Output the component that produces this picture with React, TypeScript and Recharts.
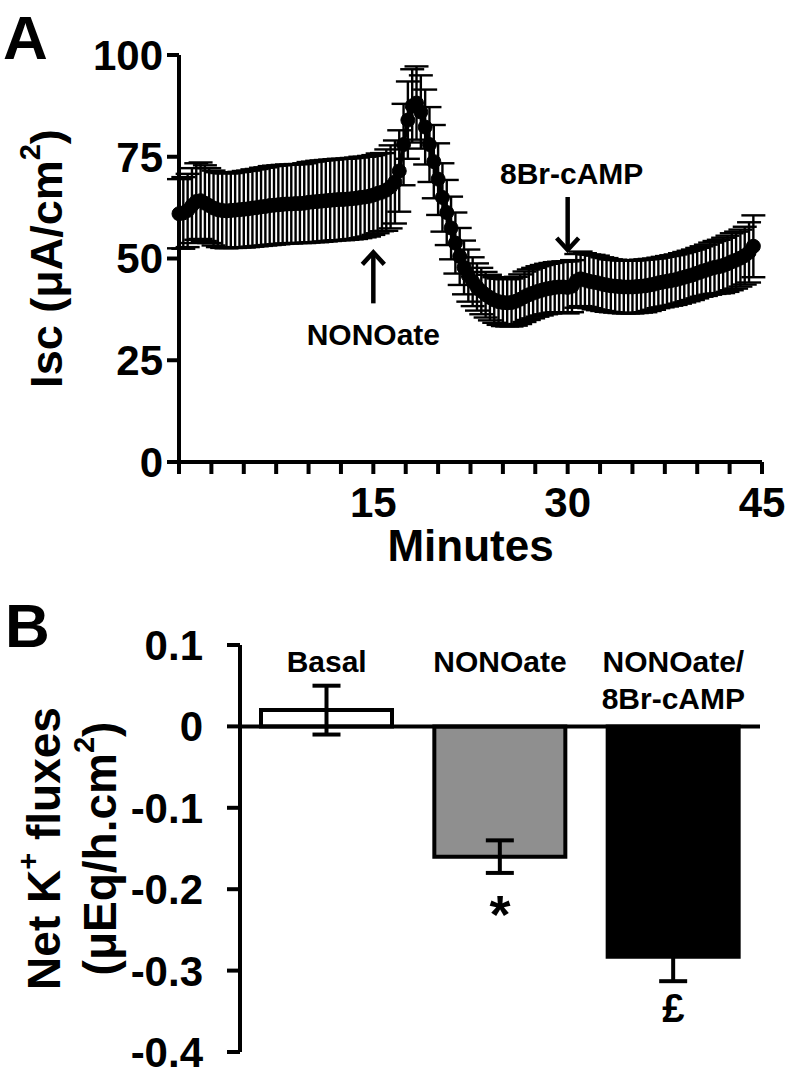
import React from 'react';
import {
  LineChart,
  Line,
  ErrorBar,
  XAxis,
  YAxis,
  ReferenceDot,
  BarChart,
  Bar,
  Cell,
  ReferenceLine,
} from 'recharts';

const FONT = '"Liberation Sans", Arial, Helvetica, sans-serif';

// ---- Panel A: Isc over time (one reading every 20 s) ----
const SAMPLE_MIN = 1 / 3;

const iscMean = [
  61.0, 61.2, 61.8, 63.0, 64.0, 64.2, 63.6, 63.0, 62.4, 62.0,
  61.8, 61.7, 61.8, 61.9, 62.0, 62.1, 62.2, 62.4, 62.5, 62.7,
  62.8, 63.0, 63.1, 63.2, 63.3, 63.4, 63.4, 63.5, 63.5, 63.6,
  63.8, 63.9, 64.0, 64.1, 64.2, 64.3, 64.4, 64.5, 64.5, 64.6,
  64.7, 64.8, 65.0, 65.1, 65.3, 65.6, 66.0, 66.3, 66.8, 67.6,
  68.8, 71.5, 78.0, 84.0, 87.5, 88.2, 86.0, 82.3, 78.0, 73.8,
  69.5, 65.0, 61.3, 57.5, 53.8, 50.5, 47.8, 45.8, 44.3, 43.0,
  42.0, 41.1, 40.4, 39.8, 39.4, 39.2, 39.1, 39.2, 39.5, 40.0,
  40.6, 41.1, 41.5, 41.9, 42.2, 42.5, 42.7, 42.9, 43.0, 43.0,
  42.9, 43.2, 44.5, 45.0, 44.7, 44.4, 44.2, 44.0, 43.7, 43.5,
  43.3, 43.2, 43.1, 43.0, 43.0, 43.0, 43.1, 43.2, 43.3, 43.5,
  43.7, 44.0, 44.2, 44.4, 44.6, 44.8, 45.1, 45.4, 45.7, 46.0,
  46.4, 46.8, 47.1, 47.5, 47.8, 48.0, 48.3, 48.7, 49.2, 49.6,
  50.1, 50.7, 51.5, 53.0,
];

const iscSem = [
  8.5, 8.8, 9.0, 9.2, 9.4, 9.4, 9.3, 9.2, 9.2, 9.2,
  9.2, 9.2, 9.2, 9.3, 9.3, 9.4, 9.4, 9.5, 9.5, 9.6,
  9.6, 9.7, 9.7, 9.7, 9.7, 9.7, 9.7, 9.7, 9.7, 9.8,
  9.9, 9.9, 10.0, 10.0, 10.0, 10.0, 10.0, 10.0, 10.0, 10.0,
  10.0, 10.0, 10.0, 9.9, 9.9, 9.8, 9.8, 9.6, 10.0, 10.2,
  10.2, 10.0, 10.0, 9.5, 9.0, 9.0, 9.0, 9.2, 9.2, 9.0,
  8.8, 8.4, 8.0, 7.7, 7.5, 7.0, 6.6, 6.4, 6.0, 5.8,
  5.7, 5.6, 5.6, 5.6, 5.7, 5.8, 5.8, 5.9, 6.0, 6.1,
  6.2, 6.2, 6.2, 6.2, 6.2, 6.2, 6.2, 6.2, 6.2, 6.3,
  6.4, 6.4, 6.6, 6.7, 6.6, 6.6, 6.7, 6.7, 6.6, 6.6,
  6.5, 6.5, 6.5, 6.5, 6.5, 6.5, 6.5, 6.5, 6.5, 6.4,
  6.3, 6.2, 6.2, 6.2, 6.2, 6.2, 6.2, 6.2, 6.2, 6.2,
  6.2, 6.2, 6.3, 6.4, 6.5, 6.6, 6.8, 6.9, 7.0, 7.0,
  7.0, 7.1, 7.4, 7.6,
];

const minuteTicks = [0, 2.5, 5, 7.5, 10, 12.5, 15, 17.5, 20, 22.5, 25, 27.5, 30, 32.5, 35, 37.5, 40, 42.5, 45];
const minuteLabels = [15, 30, 45];
const iscTicks = [0, 25, 50, 75, 100];

// treatment additions (minutes)
const nonoateAt = { t: 15, y: 52 };
const cAmpAt = { t: 30, y: 51.6 };

// ---- Panel B: net K+ fluxes ----
const fluxGroups = ['Basal', 'NONOate', 'NONOate/8Br-cAMP'];
const fluxValues = [0.02, -0.16, -0.283];
const fluxSem = [0.03, 0.02, 0.03];
const fluxMarks = ['', '*', '£'];
const fluxTicks = [0.1, 0, -0.1, -0.2, -0.3, -0.4];

const fluxFills = ['#ffffff', '#8f8f8f', '#000000'];
const markStyle: Record<string, { dy: number; size: number }> = {
  '*': { dy: 60, size: 54 },
  '£': { dy: 41, size: 40 },
};

const iscData = iscMean.map((m, i) => ({
  t: Math.round(i * SAMPLE_MIN * 1000) / 1000,
  mean: m,
  sem: iscSem[i],
}));

const fluxData = fluxGroups.map((g, i) => ({
  group: g,
  value: fluxValues[i],
  sem: fluxSem[i],
  mark: fluxMarks[i],
}));

const tickStyle = { fill: '#000', fontSize: 42, fontWeight: 700, fontFamily: FONT };
const axisStroke = { stroke: '#000', strokeWidth: 4 };
const textStyle = { fontFamily: FONT, fontWeight: 700, fill: '#000' };

const IscTitle = ({ viewBox }: any) => {
  const cy = viewBox ? viewBox.y + viewBox.height / 2 : 258;
  return (
    <text
      transform={`translate(46, ${cy}) rotate(-90)`}
      textAnchor="middle"
      dominantBaseline="central"
      fontSize={45}
      style={textStyle}
    >
      Isc (μA/cm
      <tspan dy={-16} fontSize={29}>2</tspan>
      <tspan dy={16}>)</tspan>
    </text>
  );
};

const MinutesTitle = ({ viewBox }: any) => {
  const cx = viewBox ? viewBox.x + viewBox.width / 2 : 470;
  const y = viewBox ? viewBox.y + 99 : 561;
  return (
    <text x={cx} y={y} textAnchor="middle" fontSize={44} style={textStyle}>
      Minutes
    </text>
  );
};

const FluxTitle = ({ viewBox }: any) => {
  const cy = viewBox ? viewBox.y + viewBox.height / 2 : 258;
  return (
    <g>
      <text
        transform={`translate(44, ${cy}) rotate(-90)`}
        textAnchor="middle"
        dominantBaseline="central"
        fontSize={46}
        style={textStyle}
      >
        Net K
        <tspan dy={-16} fontSize={29}>+</tspan>
        <tspan dy={16}> fluxes</tspan>
      </text>
      <text
        transform={`translate(100, ${cy}) rotate(-90)`}
        textAnchor="middle"
        dominantBaseline="central"
        fontSize={46}
        style={textStyle}
      >
        (μEq/h.cm
        <tspan dy={-16} fontSize={29}>2</tspan>
        <tspan dy={16}>)</tspan>
      </text>
    </g>
  );
};

const UpArrow = ({ cx, cy, text }: any) => (
  <g>
    <line x1={cx} y1={cy + 2} x2={cx} y2={cy + 53} stroke="#000" strokeWidth={4.5} />
    <polyline
      points={`${cx - 11},${cy + 14} ${cx},${cy + 2} ${cx + 11},${cy + 14}`}
      fill="none"
      stroke="#000"
      strokeWidth={4.5}
    />
    <text x={cx} y={cy + 95} textAnchor="middle" fontSize={30} style={textStyle}>
      {text}
    </text>
  </g>
);

const DownArrow = ({ cx, cy, text }: any) => (
  <g>
    <line x1={cx} y1={cy - 55} x2={cx} y2={cy - 2} stroke="#000" strokeWidth={4.5} />
    <polyline
      points={`${cx - 11},${cy - 14} ${cx},${cy - 2} ${cx + 11},${cy - 14}`}
      fill="none"
      stroke="#000"
      strokeWidth={4.5}
    />
    <text x={cx + 4} y={cy - 68} textAnchor="middle" fontSize={30} style={textStyle}>
      {text}
    </text>
  </g>
);

const GroupTick = ({ x, y, payload }: any) => {
  const lines = String(payload.value).split(/(?<=\/)/);
  return (
    <text x={x} y={y + 27} textAnchor="middle" fontSize={30} style={textStyle}>
      {lines.map((ln, i) => (
        <tspan key={i} x={x} dy={i === 0 ? 0 : 37}>
          {ln}
        </tspan>
      ))}
    </text>
  );
};

const SigMark = ({ cx, cy, mark }: any) => {
  const s = markStyle[mark] ?? { dy: 45, size: 40 };
  return (
    <text x={cx} y={cy + s.dy} textAnchor="middle" fontSize={s.size} style={textStyle}>
      {mark}
    </text>
  );
};

const panelLetter: React.CSSProperties = {
  position: 'absolute',
  fontFamily: FONT,
  fontWeight: 700,
  fontSize: 62,
  lineHeight: 1,
  color: '#000',
};

export default function App() {
  return (
    <div style={{ position: 'absolute', left: 0, top: 0, width: 785, height: 1090, background: '#fff' }}>
      <div style={{ ...panelLetter, left: 3, top: 7 }}>A</div>
      <div style={{ ...panelLetter, left: 5, top: 595 }}>B</div>

      <div style={{ position: 'absolute', left: 0, top: 0 }}>
        <LineChart
          width={785}
          height={580}
          data={iscData}
          margin={{ top: 55, right: 23, bottom: 0, left: 0 }}
        >
          <XAxis
            dataKey="t"
            type="number"
            domain={[0, 45]}
            ticks={minuteTicks}
            interval={0}
            height={118}
            tickSize={12}
            tickMargin={13}
            axisLine={axisStroke}
            tickLine={axisStroke}
            tick={tickStyle}
            tickFormatter={(v: number) => (minuteLabels.includes(v) ? String(v) : '')}
            label={<MinutesTitle />}
          />
          <YAxis
            type="number"
            domain={[0, 100]}
            ticks={iscTicks}
            interval={0}
            width={179}
            tickSize={12}
            tickMargin={4}
            axisLine={axisStroke}
            tickLine={axisStroke}
            tick={tickStyle}
            label={<IscTitle />}
          />
          <Line
            dataKey="mean"
            stroke="#000"
            strokeWidth={4}
            dot={{ r: 7, fill: '#000', stroke: '#000', strokeWidth: 1 }}
            isAnimationActive={false}
          >
            <ErrorBar dataKey="sem" width={12} strokeWidth={2.4} stroke="#000" direction="y" />
          </Line>
          <ReferenceDot
            x={nonoateAt.t}
            y={nonoateAt.y}
            ifOverflow="visible"
            shape={(p: any) => <UpArrow {...p} text="NONOate" />}
          />
          <ReferenceDot
            x={cAmpAt.t}
            y={cAmpAt.y}
            ifOverflow="visible"
            shape={(p: any) => <DownArrow {...p} text="8Br-cAMP" />}
          />
        </LineChart>
      </div>

      <div style={{ position: 'absolute', left: 0, top: 590 }}>
        <BarChart
          width={785}
          height={500}
          data={fluxData}
          margin={{ top: 54, right: 25, bottom: 38, left: 0 }}
        >
          <XAxis
            dataKey="group"
            orientation="top"
            height={1}
            axisLine={false}
            tickLine={false}
            tickSize={0}
            tickMargin={0}
            interval={0}
            tick={<GroupTick />}
          />
          <YAxis
            type="number"
            domain={[-0.4, 0.1]}
            ticks={fluxTicks}
            interval={0}
            width={240}
            tickSize={13}
            tickMargin={24}
            axisLine={axisStroke}
            tickLine={axisStroke}
            tick={tickStyle}
            tickFormatter={(v: number) => (v === 0 ? '0' : String(v))}
            label={<FluxTitle />}
          />
          <Bar dataKey="value" barSize={131} stroke="#000" strokeWidth={4} isAnimationActive={false}>
            {fluxData.map((d, i) => (
              <Cell key={d.group} fill={fluxFills[i]} />
            ))}
            <ErrorBar dataKey="sem" width={14} strokeWidth={4} stroke="#000" direction="y" />
          </Bar>
          <ReferenceLine y={0} stroke="#000" strokeWidth={4} />
          {fluxData
            .filter((d) => d.mark)
            .map((d) => (
              <ReferenceDot
                key={d.group}
                x={d.group}
                y={d.value - d.sem}
                ifOverflow="visible"
                shape={(p: any) => <SigMark {...p} mark={d.mark} />}
              />
            ))}
        </BarChart>
      </div>
    </div>
  );
}
